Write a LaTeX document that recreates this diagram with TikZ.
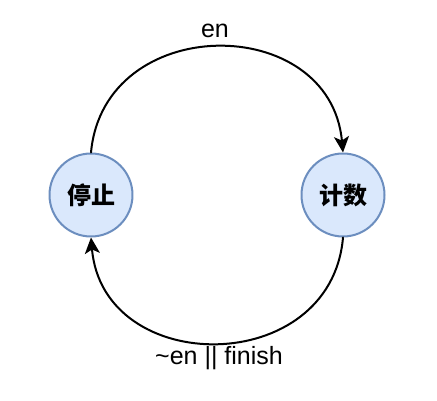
\documentclass[tikz,border=0pt]{standalone}
\usepackage{fontspec}
\setmainfont{Liberation Sans}
\newfontfamily\cjk{Noto Sans CJK SC}
\usetikzlibrary{arrows.meta}
\definecolor{stfill}{HTML}{DAE8FC}
\definecolor{stdraw}{HTML}{6C8EBF}

\begin{document}
\begin{tikzpicture}[x=1pt,y=-1pt,line cap=round,line join=round,
  state/.style={circle,minimum size=83pt,inner sep=0pt,fill=stfill,draw=stdraw,
    line width=2pt,font=\cjk\bfseries\fontsize{24}{28}\selectfont},
  lbl/.style={font=\fontsize{25}{29}\selectfont,inner sep=0pt},
  trans/.style={line width=2pt,-{Stealth[length=16pt,width=15pt,inset=4pt]}}]
\path[use as bounding box] (0,0) rectangle (437,401);
\fill[white] (0,0) rectangle (437,401);

% states
\node[state] (stop) at (91,195) {停止};
\node[state] (count) at (343,195) {计数};

% transitions
\draw[trans] (stop.north) .. controls (104,12) and (330,12) .. (count.north);
\draw[trans] (count.south) .. controls (331,378) and (103,378) .. (stop.south);

\node[lbl] (en) at (215,31) {en};
\node[lbl] (stopcond) at (219,358) {\textasciitilde en || finish};
\end{tikzpicture}
\end{document}
